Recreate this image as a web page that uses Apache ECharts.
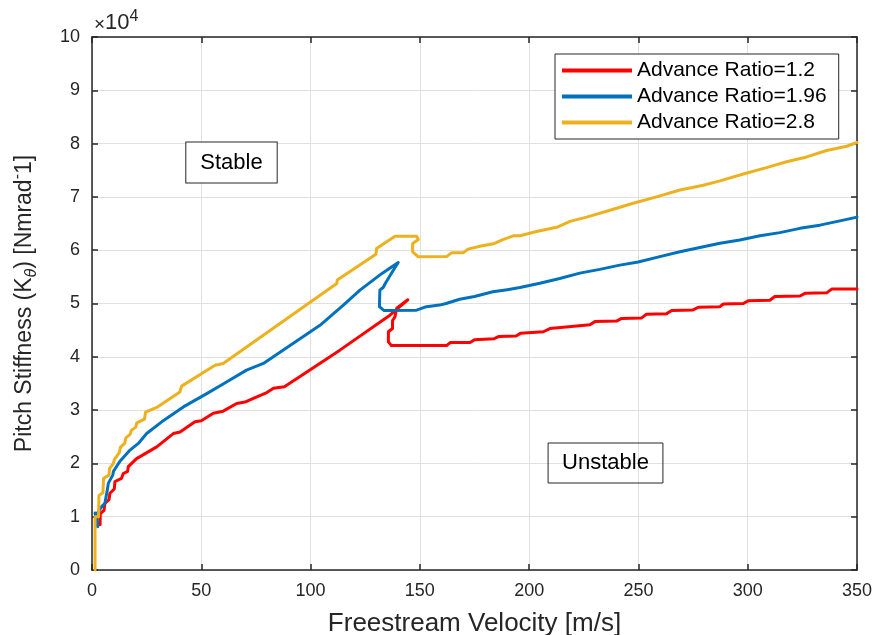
<!DOCTYPE html>
<html>
<head>
<meta charset="utf-8">
<script src="https://cdn.jsdelivr.net/npm/echarts@6/dist/echarts.min.js"></script>
<style>
  html, body { margin: 0; padding: 0; background: #fff; }
  #chart { width: 877px; height: 635px; }
</style>
</head>
<body>
<div id="chart"></div>
<script>
// values, y in units of 1e4
var seriesNames = ['Advance Ratio=1.2', 'Advance Ratio=1.96', 'Advance Ratio=2.8'];
var colors = ['#FF0000', '#0072BD', '#EDB120'];

var redData = [
  [3.7,0.85],[3.8,1.06],[5.5,1.12],[5.9,1.25],[7.8,1.32],[8.2,1.44],[10.2,1.52],[10.5,1.66],
  [13.5,1.72],[14.3,1.81],[16.3,1.85],[16.6,1.94],[20.4,2.09],[29.6,2.31],[37.2,2.56],[40.3,2.59],
  [47.1,2.78],[50,2.8],[55.5,2.94],[60,2.98],[66.2,3.125],[70,3.15],[73.8,3.22],[80,3.33],
  [83,3.41],[88,3.44],[93.6,3.59],[113.4,4.125],[136.3,4.78],[144.5,5.07],[139.4,4.91],
  [138.6,4.75],[137.5,4.68],[137.5,4.53],[135.6,4.47],[135.6,4.28],[137,4.21],[162.2,4.21],
  [164,4.27],[173,4.27],[175,4.32],[184,4.34],[186,4.38],[194,4.39],[196,4.44],[206.5,4.47],
  [209.5,4.53],[227.8,4.6],[230.1,4.66],[240,4.67],[242.3,4.72],[251.5,4.73],[253.7,4.8],
  [262.9,4.81],[265.2,4.87],[275,4.88],[277.4,4.93],[287.3,4.94],[288.8,4.99],[298,5.0],
  [300.2,5.05],[310.1,5.06],[312.4,5.13],[323.9,5.14],[326.2,5.19],[336.1,5.2],[338.4,5.27],[350,5.27]
];

var blueData = [
  [1.4,1.07],[2.0,1.07],[2.6,0.81],[2.3,1.06],[4.6,1.2],[5.9,1.25],[7.0,1.5],[7.5,1.63],[9.5,1.78],[9.8,1.85],
  [12.8,2.04],[17.4,2.25],[21.2,2.375],[25,2.56],[31.9,2.78],[41.8,3.06],[52.5,3.31],[60,3.49],
  [70.7,3.75],[78.4,3.875],[104.3,4.59],[115,4.97],[122.6,5.25],[132.5,5.56],[140.1,5.77],
  [137.5,5.6],[134.5,5.4],[133.2,5.3],[131.7,5.25],[131.5,4.94],[133.5,4.87],[148.5,4.875],
  [153,4.94],[159,4.97],[162,5.0],[168.2,5.08],[175,5.13],[183.4,5.22],[190,5.26],[195.8,5.3],
  [204.9,5.38],[214,5.47],[223.2,5.57],[232.3,5.64],[241.5,5.72],[249.9,5.78],[259.8,5.88],
  [269,5.97],[278.1,6.05],[287.3,6.13],[296.4,6.19],[305.6,6.27],[314.7,6.33],[323.9,6.41],
  [333,6.47],[342.2,6.55],[350,6.62]
];

var yellowData = [
  [1.4,0],[1.4,1.0],[3.0,1.0],[3.2,1.4],[5.0,1.45],[5.3,1.72],[7.8,1.78],[8.0,1.9],[9.8,2.0],
  [10.2,2.07],[12.5,2.2],[13.0,2.3],[15,2.38],[15.5,2.48],[17.5,2.55],[18,2.62],[20,2.68],
  [20.5,2.76],[24,2.83],[24.5,2.96],[29.6,3.05],[40.2,3.34],[41,3.45],[56.3,3.84],[60,3.875],
  [112,5.375],[112.2,5.44],[129.9,5.925],[130.2,6.03],[138.6,6.26],[148.5,6.26],[149.3,6.2],
  [146.7,6.125],[146.7,5.97],[149.3,5.875],[162.2,5.88],[164.5,5.95],[169.8,5.95],[172,6.02],
  [178,6.08],[183.6,6.12],[188,6.2],[192.7,6.27],[195.8,6.27],[203.4,6.35],[212.6,6.43],
  [218.7,6.54],[226.3,6.62],[237,6.75],[247.6,6.88],[258.3,7.0],[269,7.13],[279.7,7.22],
  [287.3,7.3],[298,7.43],[308.6,7.55],[317.8,7.66],[327,7.75],[336.1,7.87],[345.3,7.95],[350,8.02]
];

var xRange = [0, 350, 50];
var yRange = [0, 10, 1];

var font = 'Liberation Sans, Arial, sans-serif';
var ink = '#262626';

var myChart = echarts.init(document.getElementById('chart'));

function axisBox(pos, isX, main) {
  var r = isX ? xRange : yRange;
  return {
    type: 'value', position: pos, min: r[0], max: r[1], interval: r[2],
    axisLine: { show: true, onZero: false, lineStyle: { color: ink, width: 1.5 } },
    axisTick: { show: true, inside: true, length: 6, lineStyle: { color: ink, width: 1.5 } },
    axisLabel: { show: main, color: ink, fontFamily: font, fontSize: 18, margin: isX ? 12 : 12 },
    splitLine: { show: main, lineStyle: { color: '#e0e0e0', width: 1 } }
  };
}

var xMain = axisBox('bottom', true, true);
xMain.name = 'Freestream Velocity [m/s]';
xMain.nameLocation = 'middle';
xMain.nameGap = 41;
xMain.nameTextStyle = { color: ink, fontFamily: font, fontSize: 26 };

var yMain = axisBox('left', false, true);
yMain.name = 'Pitch Stiffness (K{sub|θ}) [Nmrad{sup|-}1]';
yMain.nameLocation = 'middle';
yMain.nameGap = 52;
yMain.nameRotate = 90;
yMain.nameTextStyle = {
  color: ink, fontFamily: font, fontSize: 23, lineHeight: 30,
  rich: {
    sub: { color: ink, fontFamily: font, fontSize: 16, fontStyle: 'italic', verticalAlign: 'bottom', lineHeight: 14 },
    sup: { color: ink, fontFamily: font, fontSize: 16, verticalAlign: 'top', lineHeight: 14 }
  }
};

var dataSets = [redData, blueData, yellowData];
var series = [];
for (var i = 0; i < dataSets.length; i++) {
  series.push({
    name: seriesNames[i],
    type: 'line',
    data: dataSets[i],
    showSymbol: false,
    symbol: 'none',
    xAxisIndex: 0, yAxisIndex: 0,
    lineStyle: { color: colors[i], width: 3, join: 'round', cap: 'round' },
    itemStyle: { color: colors[i] }
  });
}

var option = {
  animation: false,
  backgroundColor: '#fff',
  grid: { left: 92, right: 20, top: 37, bottom: 65, containLabel: false, outerBoundsMode: 'none' },
  xAxis: [xMain, axisBox('top', true, false)],
  yAxis: [yMain, axisBox('right', false, false)],
  legend: {
    data: seriesNames,
    orient: 'vertical',
    left: 555, top: 54,
    icon: 'rect',
    itemWidth: 70, itemHeight: 4,
    itemGap: 5,
    padding: [6, 12, 6, 7],
    backgroundColor: '#fff',
    borderColor: ink, borderWidth: 1,
    selectedMode: false,
    textStyle: { color: '#000', fontFamily: font, fontSize: 21 }
  },
  graphic: [
    {
      type: 'text', left: 94, top: 9, z: 100,
      style: {
        text: '{x|×}{b|10}{s|4}',
        rich: {
          x: { fontFamily: font, fontSize: 19, fill: ink, verticalAlign: 'bottom', lineHeight: 25 },
          b: { fontFamily: font, fontSize: 22, fill: ink, verticalAlign: 'bottom', lineHeight: 25 },
          s: { fontFamily: font, fontSize: 16, fill: ink, verticalAlign: 'top', lineHeight: 12 }
        }
      }
    },
    {
      type: 'text', x: 231.5, y: 162.5, z: 100,
      style: {
        text: 'Stable', fontFamily: font, fontSize: 22, fill: '#000',
        align: 'center', verticalAlign: 'middle',
        backgroundColor: '#fff', borderColor: ink, borderWidth: 1,
        padding: [9, 14, 9, 14]
      }
    },
    {
      type: 'text', x: 605.5, y: 463, z: 100,
      style: {
        text: 'Unstable', fontFamily: font, fontSize: 22, fill: '#000',
        align: 'center', verticalAlign: 'middle',
        borderColor: ink, borderWidth: 1,
        padding: [9, 14, 9, 14]
      }
    }
  ],
  series: series
};

myChart.setOption(option);
</script>
</body>
</html>
